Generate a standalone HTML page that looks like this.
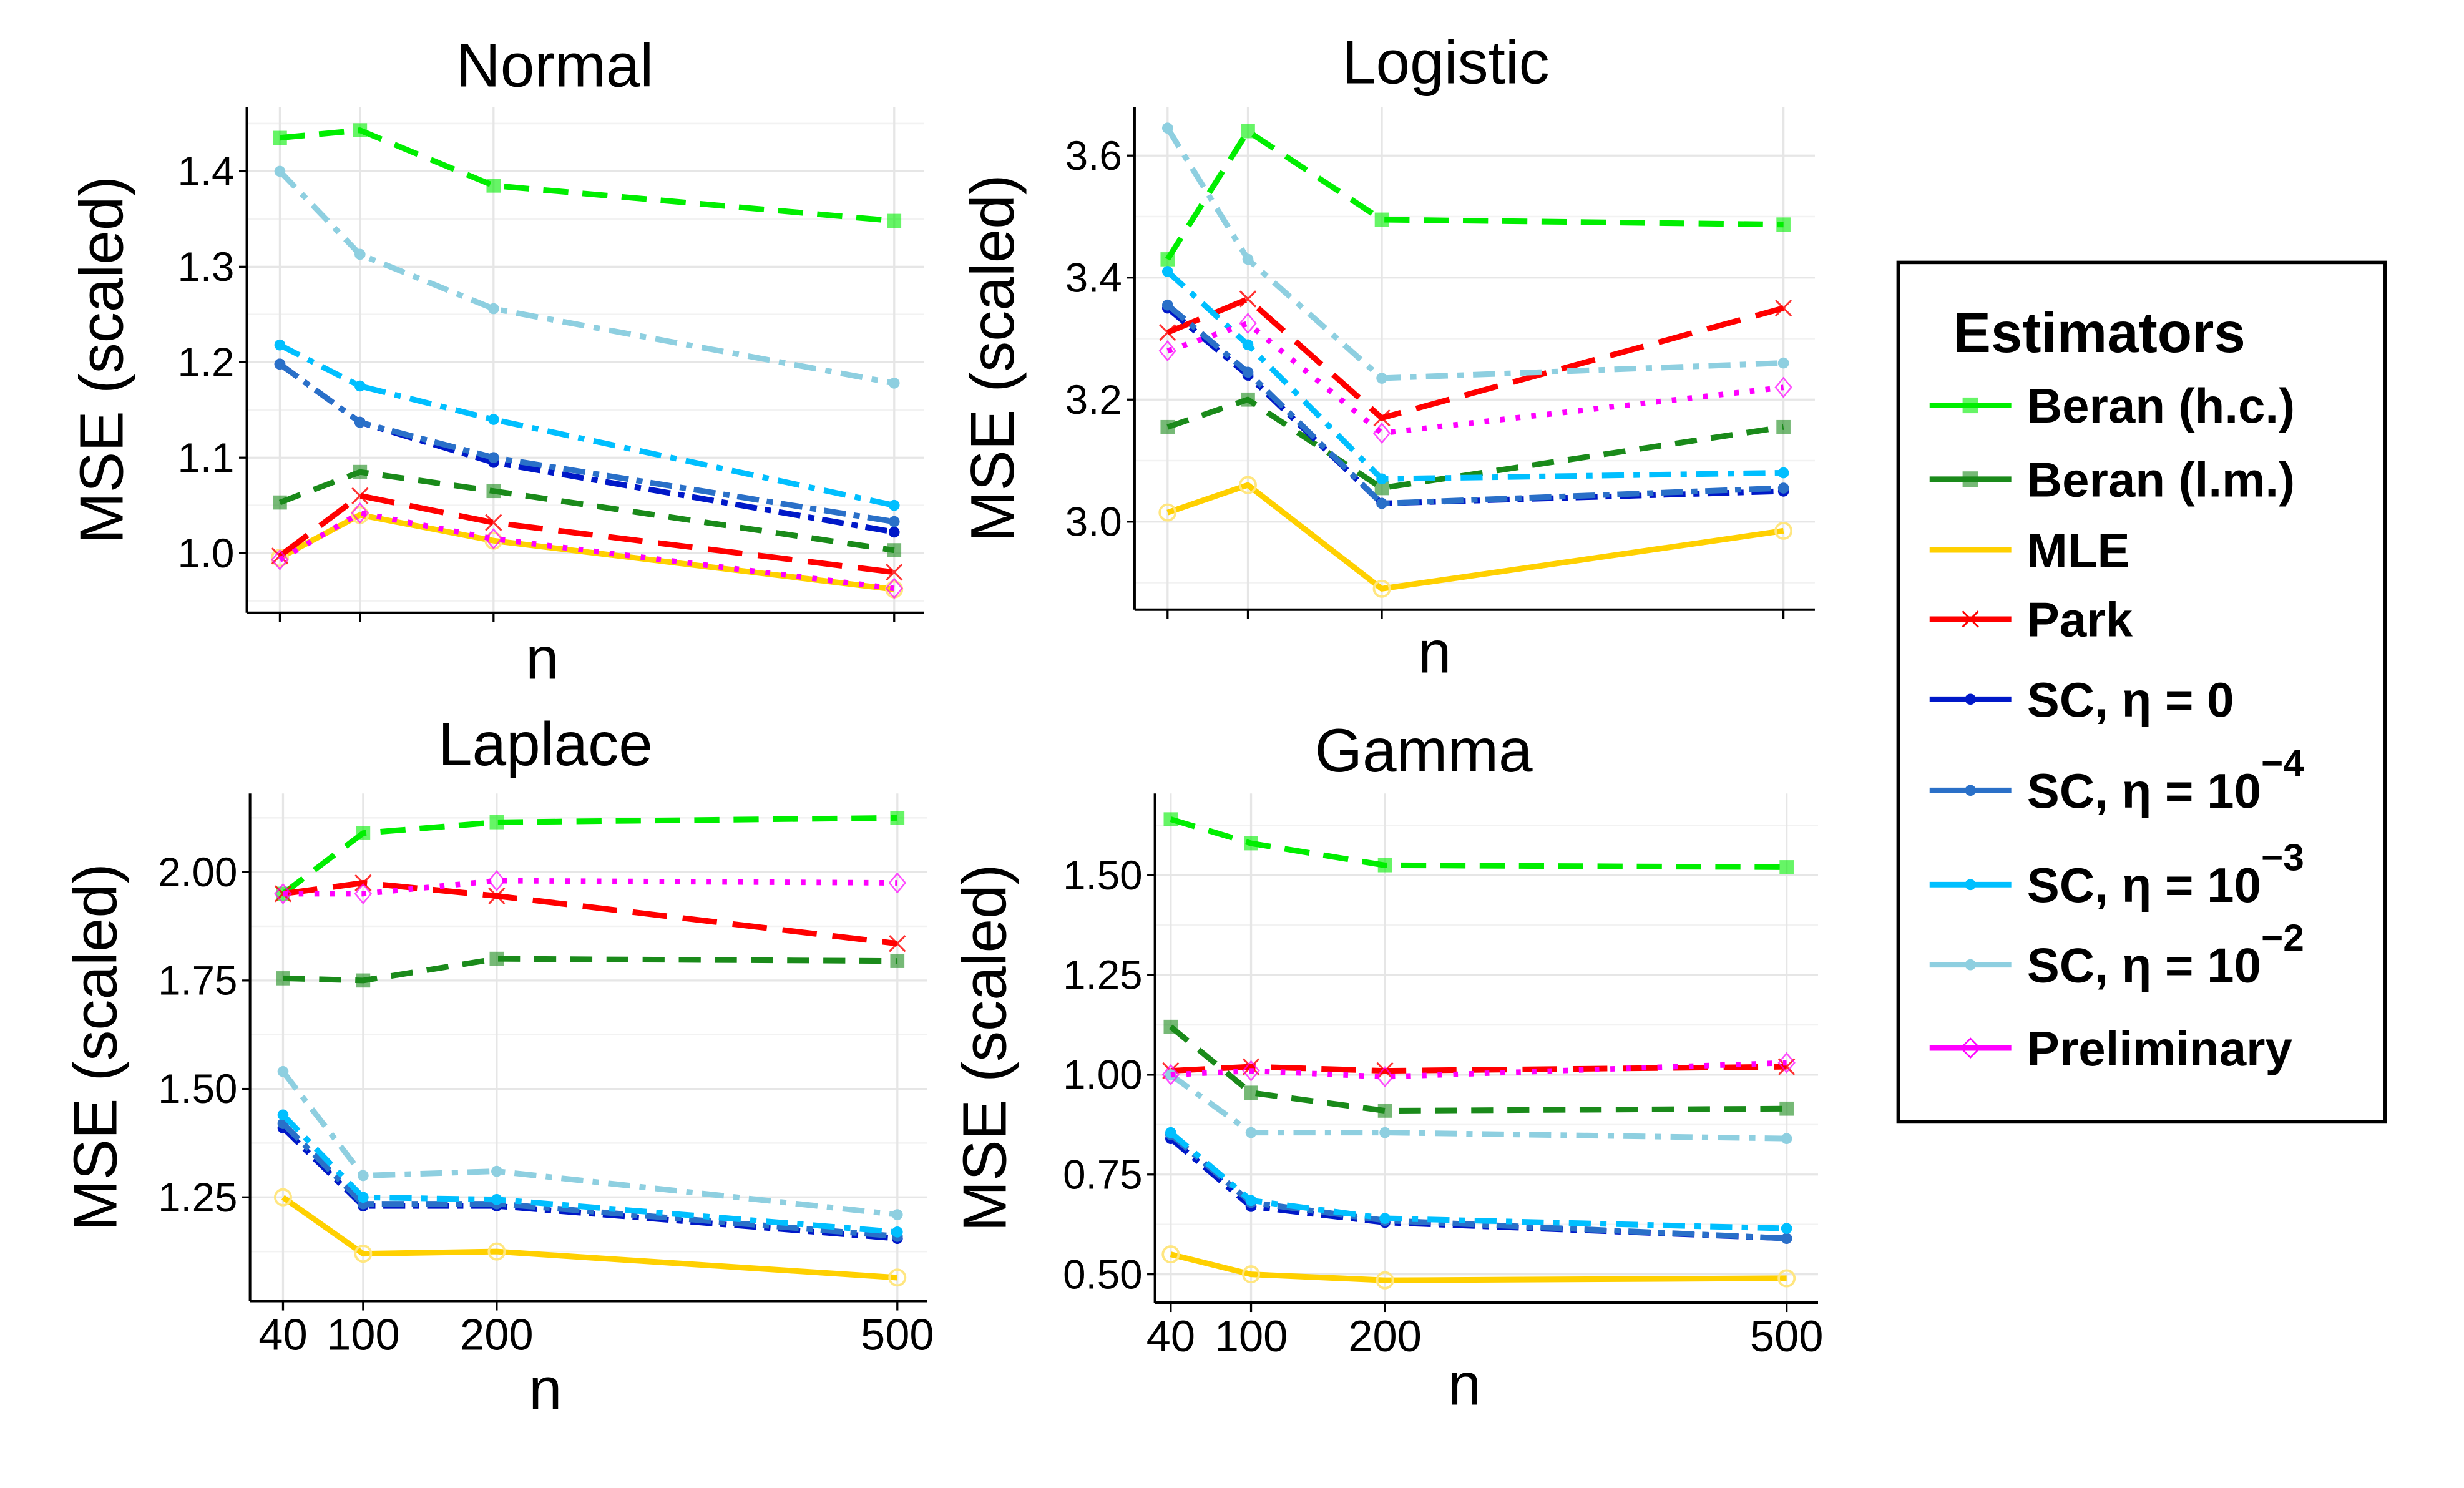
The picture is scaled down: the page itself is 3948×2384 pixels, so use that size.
<!DOCTYPE html>
<html><head><meta charset="utf-8"><style>
html,body{margin:0;padding:0;background:#fff}
svg{display:block}
text{font-family:"Liberation Sans",sans-serif;fill:#000}
</style></head><body>
<svg id="chart" width="3948" height="2384" viewBox="0 0 1568 947" xmlns="http://www.w3.org/2000/svg"></svg>
<script>
const nVals = [40, 100, 200, 500];
const seriesNames = ["Beran (h.c.)","Beran (l.m.)","MLE","Park","SC0","SC4","SC3","SC2","Preliminary"];
const normalVals = [
 [1.435,1.443,1.385,1.348],[1.053,1.085,1.065,1.003],[0.995,1.040,1.013,0.962],[0.997,1.060,1.032,0.980],
 [1.198,1.137,1.095,1.022],[1.198,1.137,1.100,1.033],[1.218,1.175,1.140,1.050],[1.400,1.313,1.256,1.178],[0.993,1.042,1.015,0.963]];
const logisticVals = [
 [3.43,3.64,3.495,3.487],[3.155,3.20,3.055,3.155],[3.015,3.06,2.89,2.985],[3.31,3.365,3.17,3.35],
 [3.35,3.24,3.03,3.05],[3.355,3.245,3.03,3.055],[3.41,3.29,3.07,3.08],[3.645,3.43,3.235,3.26],[3.28,3.325,3.145,3.22]];
const laplaceVals = [
 [1.95,2.09,2.115,2.125],[1.755,1.75,1.80,1.795],[1.25,1.12,1.125,1.065],[1.95,1.975,1.945,1.835],
 [1.41,1.23,1.23,1.155],[1.42,1.235,1.235,1.16],[1.44,1.25,1.245,1.17],[1.54,1.30,1.31,1.21],[1.95,1.95,1.98,1.975]];
const gammaVals = [
 [1.64,1.58,1.525,1.52],[1.12,0.955,0.91,0.915],[0.55,0.50,0.485,0.49],[1.01,1.02,1.01,1.02],
 [0.84,0.67,0.63,0.59],[0.85,0.68,0.635,0.59],[0.855,0.685,0.64,0.615],[1.0,0.855,0.855,0.84],[1.0,1.01,0.995,1.03]];
const normalTicks = [1.0,1.1,1.2,1.3,1.4];
const logisticTicks = [3.0,3.2,3.4,3.6];
const laplaceTicks = [1.25,1.50,1.75,2.00];
const gammaTicks = [0.50,0.75,1.00,1.25,1.50];

const styles = [
 {c:"#00ee00",d:"16,9",m:"sq"},{c:"#1a8a1a",d:"14,9",m:"sq"},{c:"#ffd000",d:"",m:"star"},{c:"#ff0000",d:"22,10",m:"x"},
 {c:"#0018c8",d:"14,5,4,5",m:"dot"},{c:"#2a70c8",d:"14,5,4,5",m:"dot"},{c:"#00bfff",d:"14,6,4,6",m:"dot"},{c:"#8ecfe0",d:"14,6,4,6",m:"dot"},{c:"#ff00ff",d:"3,7",m:"dia"}];

const svg = document.getElementById('chart');
const NS = "http://www.w3.org/2000/svg";
function mk(tag, attrs, parent){const e=document.createElementNS(NS,tag);for(const k in attrs)e.setAttribute(k,attrs[k]);(parent||svg).appendChild(e);return e;}

const panels = [
 {name:"normal",title:"Normal",tx:353,ty:55,vals:normalVals,ticks:normalTicks,fmt:1,L:157,R:588,T:68,B:390,x0:178,x1:569,v0:1.0,p0:352,v1:1.4,p1:109,xlab:false,nX:345,nY:432,ytX:78},
 {name:"logistic",title:"Logistic",tx:920,ty:53,vals:logisticVals,ticks:logisticTicks,fmt:1,L:722,R:1155,T:68,B:388,x0:743,x1:1135,v0:3.0,p0:332,v1:3.6,p1:99,xlab:false,nX:913,nY:428,ytX:645},
 {name:"laplace",title:"Laplace",tx:347,ty:487,vals:laplaceVals,ticks:laplaceTicks,fmt:2,L:159,R:590,T:505,B:828,x0:180,x1:571,v0:1.25,p0:762,v1:2.0,p1:555,xlab:true,nX:347,nY:897,ytX:74},
 {name:"gamma",title:"Gamma",tx:906,ty:491,vals:gammaVals,ticks:gammaTicks,fmt:2,L:735,R:1157,T:505,B:829,x0:745,x1:1137,v0:0.5,p0:811,v1:1.5,p1:557,xlab:true,nX:932,nY:894,ytX:640}
];

panels.forEach(p=>{
 const g = mk('g',{});
 
 
 const xs = v => p.x0 + (v-40)/(500-40)*(p.x1-p.x0);
 const ys = v => p.p0 + (v-p.v0)/(p.v1-p.v0)*(p.p1-p.p0);
 const step = (p.ticks[1]-p.ticks[0])/2;
 for(let v=p.ticks[0]-step; ys(v)>p.T; v+=step){ const y=ys(v); if(y<p.B) mk('line',{x1:p.L,x2:p.R,y1:y,y2:y,stroke:"#f2f2f2","stroke-width":1},g);}
 p.ticks.forEach(v=>{const y=ys(v);mk('line',{x1:p.L,x2:p.R,y1:y,y2:y,stroke:"#e6e6e6","stroke-width":1.3},g);});
 nVals.forEach(n=>{const x=xs(n);mk('line',{x1:x,x2:x,y1:p.T,y2:p.B,stroke:"#e6e6e6","stroke-width":1.3},g);});
 mk('line',{x1:p.L,x2:p.L,y1:p.T,y2:p.B,stroke:"#000","stroke-width":1.6},g);
 mk('line',{x1:p.L,x2:p.R,y1:p.B,y2:p.B,stroke:"#000","stroke-width":1.6},g);
 p.ticks.forEach(v=>{const y=ys(v);mk('line',{x1:p.L-5,x2:p.L,y1:y,y2:y,stroke:"#000","stroke-width":1.3},g);
  const t=mk('text',{x:p.L-8,y:y+9,"text-anchor":"end","font-size":26},g);t.textContent=v.toFixed(p.fmt);
  });
 nVals.forEach(n=>{const x=xs(n);mk('line',{x1:x,x2:x,y1:p.B,y2:p.B+6,stroke:"#000","stroke-width":1.3},g);
  if(p.xlab){const t=mk('text',{x:x,y:p.B+31,"text-anchor":"middle","font-size":28},g);t.textContent=n;
  }});
 const tt=mk('text',{x:p.tx,y:p.ty,"text-anchor":"middle","font-size":39},g);tt.textContent=p.title;
 
 const nl=mk('text',{x:p.nX,y:p.nY,"text-anchor":"middle","font-size":38},g);nl.textContent="n";
 
 const cy=(p.T+p.B)/2;
 const yt=mk('text',{x:p.ytX,y:cy,"text-anchor":"middle","font-size":39,transform:`rotate(-90 ${p.ytX} ${cy})`},g);yt.textContent="MSE (scaled)";
 
 p.vals.forEach((arr,i)=>{
  const s=styles[i];
  const pts=arr.map((v,j)=>xs(nVals[j]).toFixed(1)+","+ys(v).toFixed(1)).join(" ");
  const pl=mk('polyline',{points:pts,fill:"none",stroke:s.c,"stroke-width":i==8?3.5:3.6,"stroke-dasharray":s.d,"stroke-linejoin":"round"},g);
  
  
  arr.forEach((v,j)=>{const x=xs(nVals[j]),y=ys(v);let m;
   if(s.m=="sq") m=mk('rect',{x:x-4.5,y:y-4.5,width:9,height:9,fill:s.c,opacity:0.6},g);
   else if(s.m=="dot") m=mk('circle',{cx:x,cy:y,r:3.5,fill:s.c},g);
   else if(s.m=="x") m=mk('path',{d:`M${x-5},${y-5}L${x+5},${y+5}M${x-5},${y+5}L${x+5},${y-5}`,stroke:s.c,"stroke-width":1.2,opacity:0.8},g);
   else if(s.m=="dia") m=mk('path',{d:`M${x},${y-6}L${x+5},${y}L${x},${y+6}L${x-5},${y}Z`,stroke:s.c,fill:"none","stroke-width":1,opacity:0.7},g);
   else m=mk('circle',{cx:x,cy:y,r:5,fill:"none",stroke:"#ffe680","stroke-width":1.5},g);
   });
 });
});

const lg=mk('g',{});


mk('rect',{x:1208,y:167,width:310,height:547,fill:"#fff",stroke:"#000","stroke-width":2.2},lg);
const lt=mk('text',{x:1243,y:224,"font-size":36,"font-weight":"bold"},lg);lt.textContent="Estimators";

const legY=[258,305,350,394,445,503,563,614,667];
const legLabels=["Beran (h.c.)","Beran (l.m.)","MLE","Park","SC, η = 0","SC, η = 10","SC, η = 10","SC, η = 10","Preliminary"];
const legSup=["","","","","","−4","−3","−2",""];
legY.forEach((y,i)=>{
 const s=styles[i];
 const e=mk('g',{},lg);
 
 
 mk('line',{x1:1228,x2:1280,y1:y,y2:y,stroke:s.c,"stroke-width":3.5},e);
 if(s.m=="sq") mk('rect',{x:1249,y:y-5,width:10,height:10,fill:s.c,opacity:0.6},e);
 else if(s.m=="dot") mk('circle',{cx:1254,cy:y,r:3.5,fill:s.c},e);
 else if(s.m=="x") mk('path',{d:`M${1249},${y-5}L${1259},${y+5}M${1249},${y+5}L${1259},${y-5}`,stroke:s.c,"stroke-width":1.2},e);
 else if(s.m=="dia") mk('path',{d:`M1254,${y-6}L1260,${y}L1254,${y+6}L1248,${y}Z`,stroke:s.c,fill:"none","stroke-width":1},e);
 const t=mk('text',{x:1290,y:y+11,"font-size":31,"font-weight":"bold"},e);t.textContent=legLabels[i];
 if(legSup[i]){const sp=mk('tspan',{dy:-20,"font-size":24},t);sp.textContent=legSup[i];}
});
</script>
</body></html>
